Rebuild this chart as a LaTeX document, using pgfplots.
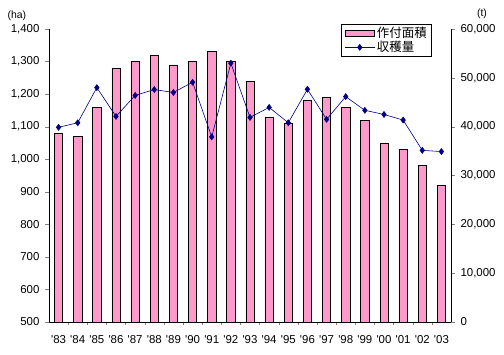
\documentclass[border=0pt]{standalone}
\usepackage{pgfplots}
\pgfplotsset{compat=1.18}
\usepackage{fontspec}
\setmainfont{Liberation Sans}
\newfontfamily\cjk{Noto Sans CJK JP}
\definecolor{barpink}{RGB}{255,153,204}
\definecolor{navyline}{RGB}{0,0,128}
\pgfplotsset{
  barleg/.style={legend image code/.code={\draw[##1] (0cm,-0.09cm) rectangle (1.05cm,0.12cm);}},
  lineleg/.style={legend image code/.code={\draw[##1,mark=none] (0cm,0cm) -- (1.05cm,0cm); \draw[##1] plot coordinates {(0.525cm,0cm)};}},
}
\begin{document}
\begin{tikzpicture}
\useasboundingbox (-49bp,-33bp) rectangle (455bp,322bp);
\begin{axis}[
  at={(0,0)}, anchor=south west,
  scale only axis, width=402bp, height=293bp,
  xmin=-0.5, xmax=20.5, ymin=500, ymax=1400,
  axis x line*=bottom, axis y line*=left,
  xtick={0,...,20},
  xticklabels={\textquotesingle83,\textquotesingle84,\textquotesingle85,\textquotesingle86,\textquotesingle87,\textquotesingle88,\textquotesingle89,\textquotesingle90,\textquotesingle91,\textquotesingle92,\textquotesingle93,\textquotesingle94,\textquotesingle95,\textquotesingle96,\textquotesingle97,\textquotesingle98,\textquotesingle99,\textquotesingle00,\textquotesingle01,\textquotesingle02,\textquotesingle03},
  major x tick style={draw=none},
  minor xtick={0.5,1.5,...,19.5},
  minor tick length=3bp,
  ytick={500,600,...,1400},
  major tick length=4bp,
  tick align=outside,
  /pgf/number format/1000 sep={,},
  /pgf/number format/assume math mode=true,
  ticklabel style={font=\fontsize{11.5}{13}\selectfont},
  xticklabel style={yshift=-6bp},
  yticklabel style={xshift=-2bp},
  axis line style={black, line width=0.8pt},
  clip=false,
]
\addplot[ybar, bar width=8.3bp, fill=barpink, draw=black, line width=0.6pt]
coordinates {(0,1080)(1,1070)(2,1160)(3,1280)(4,1300)(5,1320)(6,1290)(7,1300)(8,1330)(9,1300)(10,1240)(11,1130)(12,1110)(13,1180)(14,1190)(15,1160)(16,1120)(17,1050)(18,1030)(19,980)(20,920)};
\node[font=\fontsize{10.5}{12}\selectfont] at (rel axis cs:-0.08,1.045) {(ha)};
\end{axis}
\begin{axis}[
  at={(0,0)}, anchor=south west,
  scale only axis, width=402bp, height=293bp,
  xmin=-0.5, xmax=20.5, ymin=0, ymax=60000,
  axis x line=none, axis y line*=right,
  ytick={0,10000,...,60000},
  scaled y ticks=false,
  major tick length=4bp,
  tick align=outside,
  /pgf/number format/1000 sep={,},
  /pgf/number format/assume math mode=true,
  ticklabel style={font=\fontsize{11.5}{13}\selectfont},
  yticklabel style={xshift=2bp},
  axis line style={black, line width=0.8pt},
  clip=false,
  legend style={at={(0.953,1.017)}, anchor=north east, draw=black, line width=0.8pt,
    font=\cjk\fontsize{12.5}{14}\selectfont, cells={anchor=west}, inner xsep=3pt, inner ysep=1pt, row sep=-2pt},
]
\addlegendimage{area legend, fill=barpink, draw=black, line width=0.6pt, barleg}
\addlegendentry{作付面積}
\addplot[navyline, line width=0.6pt, mark=diamond*, mark size=3pt, mark options={fill=navyline}, lineleg]
coordinates {(0,39870)(1,40800)(2,48000)(3,42100)(4,46400)(5,47600)(6,47000)(7,49100)(8,37900)(9,53000)(10,41900)(11,43950)(12,40800)(13,47650)(14,41500)(15,46150)(16,43350)(17,42500)(18,41350)(19,35150)(20,34900)};
\addlegendentry{収穫量}
\node[font=\fontsize{10.5}{12}\selectfont] at (rel axis cs:1.077,1.052) {(t)};
\end{axis}
\end{tikzpicture}
\end{document}
